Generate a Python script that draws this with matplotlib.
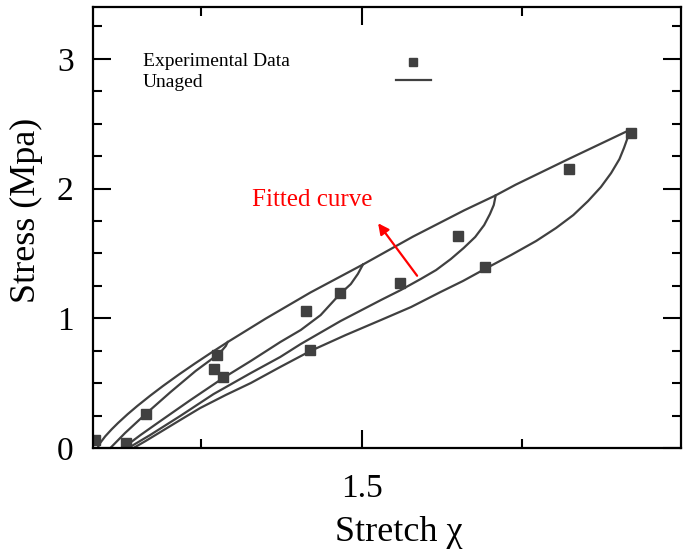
import numpy as np
import matplotlib.pyplot as plt
from matplotlib.lines import Line2D
from matplotlib.ticker import MultipleLocator

plt.rcParams['font.family'] = ['Liberation Serif', 'DejaVu Serif']

# experimental points (stretch, stress MPa)
exp_x = [1.084, 1.133, 1.163, 1.275, 1.270, 1.284, 1.413, 1.466, 1.420, 1.559, 1.650, 1.692, 1.823, 1.920]
exp_y = [0.062, 0.039, 0.262, 0.717, 0.609, 0.547, 1.056, 1.195, 0.756, 1.272, 1.635, 1.396, 2.151, 2.429]

# fitted curves
env_x = [1.088, 1.092, 1.100, 1.110, 1.120, 1.135, 1.150, 1.170, 1.190, 1.215, 1.240, 1.265, 1.291,
         1.350, 1.420, 1.502, 1.580, 1.660, 1.709, 1.740, 1.820, 1.917]
env_y = [0.000, 0.038, 0.090, 0.144, 0.193, 0.261, 0.324, 0.403, 0.478, 0.567, 0.652, 0.734, 0.817,
         0.997, 1.199, 1.415, 1.630, 1.833, 1.948, 2.030, 2.222, 2.450]

un1_x = [1.108, 1.131, 1.163, 1.202, 1.241, 1.264, 1.280, 1.288, 1.291]
un1_y = [0.000, 0.116, 0.262, 0.432, 0.594, 0.678, 0.740, 0.786, 0.817]

un2_x = [1.128, 1.155, 1.186, 1.233, 1.284, 1.327, 1.373, 1.405, 1.436, 1.466, 1.483, 1.494, 1.502]
un2_y = [0.000, 0.100, 0.208, 0.370, 0.540, 0.671, 0.817, 0.910, 1.025, 1.187, 1.264, 1.342, 1.415]

un3_x = [1.136, 1.170, 1.217, 1.269, 1.327, 1.373, 1.405, 1.467, 1.530, 1.561, 1.592, 1.616, 1.639,
         1.659, 1.677, 1.691, 1.700, 1.706, 1.709]
un3_y = [0.000, 0.100, 0.247, 0.416, 0.578, 0.702, 0.802, 0.979, 1.141, 1.218, 1.303, 1.372, 1.457,
         1.542, 1.627, 1.719, 1.804, 1.874, 1.948]

un4_x = [1.144, 1.163, 1.186, 1.217, 1.248, 1.288, 1.327, 1.373, 1.420, 1.475, 1.530, 1.577, 1.623,
         1.658, 1.692, 1.733, 1.772, 1.803, 1.830, 1.853, 1.873, 1.889, 1.902, 1.909, 1.914, 1.917]
un4_y = [0.000, 0.054, 0.123, 0.216, 0.308, 0.409, 0.501, 0.625, 0.748, 0.871, 0.987, 1.087, 1.203,
         1.288, 1.380, 1.488, 1.596, 1.696, 1.796, 1.904, 2.012, 2.120, 2.228, 2.313, 2.382, 2.450]

col = '#404040'

fig = plt.figure(figsize=(6.83, 5.54), dpi=100)
ax = fig.add_axes([0.1362, 0.1913, 0.8609, 0.796])

for cx, cy in [(env_x, env_y), (un1_x, un1_y), (un2_x, un2_y), (un3_x, un3_y), (un4_x, un4_y)]:
    ax.plot(cx, cy, color=col, lw=1.6, solid_joinstyle='round')
ax.plot(exp_x, exp_y, 's', color=col, ms=6.5, mec=col)

ax.set_xlim(1.081, 1.998)
ax.set_ylim(0, 3.4)
ax.xaxis.set_major_locator(MultipleLocator(0.5))
ax.xaxis.set_minor_locator(MultipleLocator(0.25))
ax.yaxis.set_major_locator(MultipleLocator(1))
ax.yaxis.set_minor_locator(MultipleLocator(0.25))
ax.xaxis.set_major_formatter(plt.FuncFormatter(lambda v, p: f'{v:g}'))
ax.tick_params(which='both', direction='in', top=True, right=True, width=1.5, labelsize=24)
ax.tick_params(which='major', length=13, pad=14)
ax.tick_params(axis='x', which='major', pad=18)
ax.tick_params(which='minor', length=6.5)
for s in ax.spines.values():
    s.set_linewidth(1.6)

ax.set_xlabel('Stretch χ', fontsize=26)
ax.set_ylabel('Stress (Mpa)', fontsize=26)
ax.xaxis.set_label_coords(0.52, -0.155)
ax.yaxis.set_label_coords(-0.085, 0.54)

# legend: labels on the left, keys on the right
ax.text(0.085, 0.876, 'Experimental Data', transform=ax.transAxes, fontsize=14, va='center')
ax.text(0.085, 0.830, 'Unaged', transform=ax.transAxes, fontsize=14, va='center')
h_pts = Line2D([], [], ls='none', marker='s', color=col, ms=6)
h_line = Line2D([], [], color=col, lw=1.6)
ax.legend([h_pts, h_line], ['', ''], loc='center', bbox_to_anchor=(0.545, 0.85),
          frameon=False, handlelength=1.8, handletextpad=0, labelspacing=0.0, fontsize=14)

ax.text(1.4234, 1.912, 'Fitted curve', color='red', fontsize=18, ha='center', va='center')
ax.annotate('', xy=(1.523, 1.75), xytext=(1.589, 1.311),
            arrowprops=dict(arrowstyle='-|>', color='red', lw=1.6, mutation_scale=16))

fig.savefig('out.png', dpi=100)
